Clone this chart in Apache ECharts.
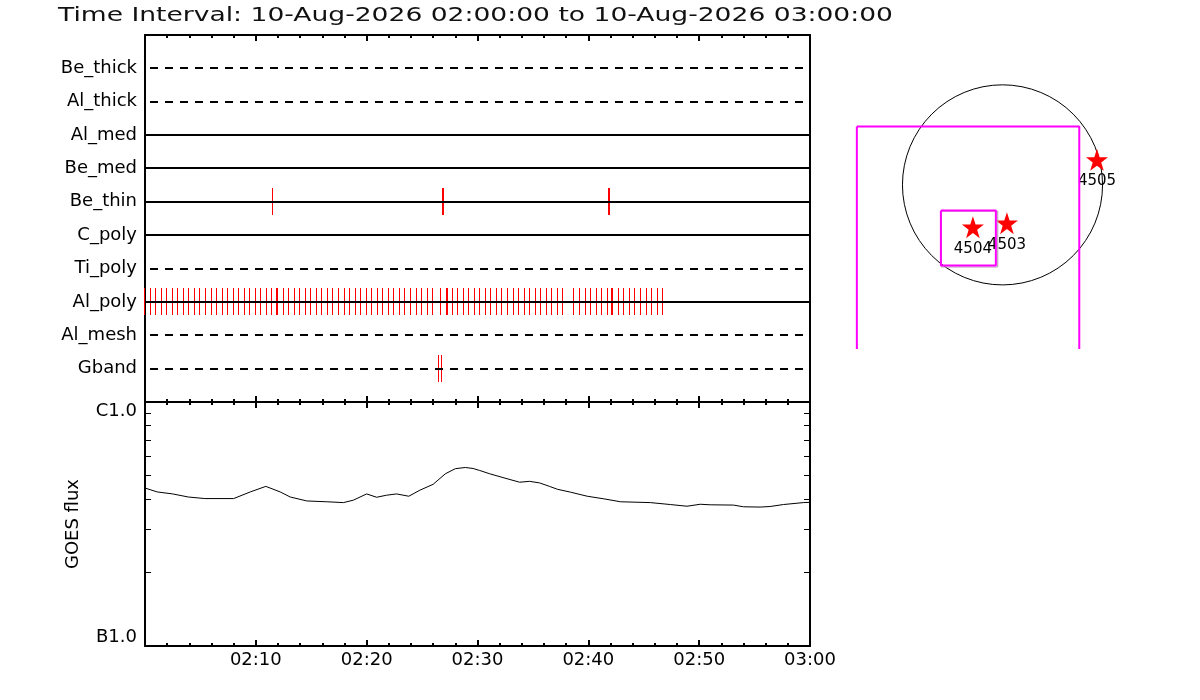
<!DOCTYPE html>
<html>
<head>
<meta charset="utf-8">
<title>XRT exposures and GOES flux</title>
<script src="https://cdn.jsdelivr.net/npm/echarts@6/dist/echarts.min.js"></script>
<style>
  html, body { margin: 0; padding: 0; background: #fff; }
  #main { width: 1200px; height: 700px; }
</style>
</head>
<body>
<div id="main"></div>
<script>
var titleText = 'Time Interval: 10-Aug-2026 02:00:00 to 10-Aug-2026 03:00:00';

// filter rows, top to bottom, and whether the row line is dashed
var filters = ['Be_thick', 'Al_thick', 'Al_med', 'Be_med', 'Be_thin', 'C_poly', 'Ti_poly', 'Al_poly', 'Al_mesh', 'Gband'];
var dashedRow = [1, 1, 0, 0, 0, 0, 1, 0, 1, 1];

// exposure times, minutes after 02:00
var beThinTimes = [11.58, 26.9, 27.0, 41.82, 41.92];
var gbandTimes = [26.56, 26.83];
var alPolyTimes = [0, 0.5, 1, 1.5, 2, 2.5, 3, 3.5, 4, 4.5, 5, 5.5, 6, 6.5, 7, 7.5, 8, 8.5, 9, 9.5,
  10, 10.5, 11, 11.5, 11.9, 12, 12.5, 13, 13.5, 14, 14.5, 15, 15.5, 16, 16.5, 17, 17.5, 18, 18.5,
  19, 19.5, 20, 20.5, 21, 21.5, 22, 22.5, 23, 23.5, 24, 24.5, 25, 25.5, 26, 26.75, 27.25, 27.37,
  27.75, 28.25, 28.75, 29.25, 29.75, 30.25, 30.75, 31.25, 31.75, 32.25, 32.75, 33.25, 33.75,
  34.25, 34.75, 35.25, 35.75, 36.25, 36.75, 37.25, 37.75, 38.75, 39.25, 39.75, 40.25, 40.75,
  41.25, 41.75, 42.15, 42.25, 42.75, 43.25, 43.75, 44.25, 44.75, 45.25, 45.75, 46.25, 46.75];

// GOES 1-8 A flux (W/m^2)
var goesTime = [0, 1.1, 2.5, 3.9, 5.4, 8.0, 9.5, 10.9, 12.2, 13.1, 14.6, 16.4, 17.9, 18.8, 20.0,
  20.9, 21.8, 22.7, 23.8, 24.8, 26.0, 27.1, 28.0, 28.9, 29.6, 30.2, 31.1, 32.3, 33.8, 34.7, 35.6,
  36.5, 37.2, 38.4, 39.9, 41.4, 42.9, 45.6, 47.4, 48.9, 50.1, 51.0, 53.1, 54.0, 55.5, 56.4, 57.6,
  59.4, 60];
var goesFlux = [4.44e-7, 4.28e-7, 4.20e-7, 4.08e-7, 4.02e-7, 4.02e-7, 4.28e-7, 4.51e-7, 4.28e-7,
  4.08e-7, 3.93e-7, 3.90e-7, 3.87e-7, 3.96e-7, 4.20e-7, 4.07e-7, 4.15e-7, 4.20e-7, 4.11e-7,
  4.35e-7, 4.60e-7, 5.08e-7, 5.33e-7, 5.39e-7, 5.34e-7, 5.24e-7, 5.08e-7, 4.90e-7, 4.69e-7,
  4.73e-7, 4.66e-7, 4.51e-7, 4.39e-7, 4.27e-7, 4.11e-7, 4.01e-7, 3.90e-7, 3.87e-7, 3.80e-7,
  3.74e-7, 3.81e-7, 3.79e-7, 3.78e-7, 3.72e-7, 3.71e-7, 3.73e-7, 3.80e-7, 3.87e-7, 3.88e-7];
var goesTickFlux = [1e-7, 2e-7, 3e-7, 4e-7, 5e-7, 6e-7, 7e-7, 8e-7, 9e-7, 1e-6];
var goesClassValues = [-7, -6];
var goesClassLabels = ['B1.0', 'C1.0'];

var timeTickValues = [10, 20, 30, 40, 50, 60];
var timeTickLabels = ['02:10', '02:20', '02:30', '02:40', '02:50', '03:00'];

// solar map, arcsec from disk centre
var rsun = 950;
var fovX = [-1383, 729, 729, -1383, -1383];
var fovY = [554, 554, -1600, -1600, 554];
var subX = [-585, -63, -63, -585, -585];
var subY = [-244, -244, -767, -767, -244];
var sub2X = [-580, -45, -45, -580, -580];
var sub2Y = [-250, -250, -780, -780, -250];
var arNames = ['4505', '4504', '4503'];
var arX = [897, -281, 42];
var arY = [237.5, -402, -364];

var FONT = '"DejaVu Sans", sans-serif';
var nRows = filters.length;
function rowOf(name) { return nRows - filters.indexOf(name); }

var exposures = [];
beThinTimes.forEach(function (t) { exposures.push([t, rowOf('Be_thin')]); });
gbandTimes.forEach(function (t) { exposures.push([t, rowOf('Gband')]); });
alPolyTimes.forEach(function (t) { exposures.push([t, rowOf('Al_poly')]); });

var rowLines = filters.map(function (f, i) { return [0, nRows - i, dashedRow[i]]; });
var goesData = goesTime.map(function (t, i) { return [t, Math.log10(goesFlux[i])]; });
var goesTicks = goesTickFlux.map(function (f) { return Math.log10(f); });
goesTicks[0] = -7; goesTicks[goesTicks.length - 1] = -6;

function zip(xs, ys) { return xs.map(function (x, i) { return [x, ys[i]]; }); }

// stretch title to the wide plotting-font look
var ctx = document.createElement('canvas').getContext('2d');
ctx.font = '20px "DejaVu Sans"';
var titleScale = 835 / ctx.measureText(titleText).width;

var black = '#000';
function timeAxis(gridIndex, position, withLabels) {
  return {
    type: 'value', gridIndex: gridIndex, position: position, min: 0, max: 60, interval: 10,
    axisLine: { show: true, onZero: false, lineStyle: { color: black, width: 2 } },
    axisTick: { show: true, inside: true, length: 6, lineStyle: { color: black, width: 2 } },
    minorTick: { show: true, splitNumber: 5, length: 3, lineStyle: { color: black, width: 2 } },
    splitLine: { show: false }, minorSplitLine: { show: false },
    axisLabel: withLabels ? {
      show: true, customValues: timeTickValues, margin: 5, color: black, fontSize: 18, fontFamily: FONT,
      formatter: function (v) { return timeTickLabels[timeTickValues.indexOf(v)]; }
    } : { show: false }
  };
}
function fluxAxis(position, withLabels) {
  return {
    type: 'value', gridIndex: 1, position: position, min: -7, max: -6,
    axisLine: { show: true, onZero: false, lineStyle: { color: black, width: 2 } },
    axisTick: { show: true, inside: true, length: 6, customValues: goesTicks, lineStyle: { color: black, width: 1 } },
    splitLine: { show: false },
    name: withLabels ? 'GOES flux' : '', nameLocation: 'middle', nameGap: 63, nameRotate: 90,
    nameTextStyle: { color: black, fontSize: 18, fontFamily: FONT },
    axisLabel: withLabels ? {
      show: true, customValues: goesClassValues, margin: 8, color: black, fontSize: 18, fontFamily: FONT,
      verticalAlignMinLabel: 'bottom', verticalAlignMaxLabel: 'top',
      formatter: function (v) { return goesClassLabels[goesClassValues.indexOf(v)]; }
    } : { show: false }
  };
}

var chart = echarts.init(document.getElementById('main'), null, { renderer: 'canvas' });
chart.setOption({
  animation: false,
  backgroundColor: '#fff',
  textStyle: { fontFamily: FONT },
  graphic: [{
    type: 'text', x: 58, y: 16, scaleX: titleScale, silent: true,
    style: { text: titleText, font: '20px "DejaVu Sans"', fill: '#111', align: 'left', verticalAlign: 'middle' }
  }],
  grid: [
    { left: 145, top: 35, width: 665, height: 367, outerBoundsMode: 'none' },
    { left: 145, top: 402, width: 665, height: 244, outerBoundsMode: 'none' },
    { left: 834, top: 27, width: 337, height: 321, outerBoundsMode: 'none' }
  ],
  xAxis: [
    timeAxis(0, 'top', false),
    timeAxis(0, 'bottom', false),
    timeAxis(1, 'top', false),
    timeAxis(1, 'bottom', true),
    { type: 'value', gridIndex: 2, min: -1600, max: 1600, show: false }
  ],
  yAxis: [
    {
      type: 'value', gridIndex: 0, position: 'left', min: 0, max: nRows + 1,
      axisLine: { show: true, onZero: false, lineStyle: { color: black, width: 2 } },
      axisTick: { show: false }, splitLine: { show: false },
      axisLabel: {
        show: true, customValues: filters.map(function (f, i) { return nRows - i; }),
        margin: 8, color: black, fontSize: 18, fontFamily: FONT,
        formatter: function (v) { return filters[nRows - v]; }
      }
    },
    {
      type: 'value', gridIndex: 0, position: 'right', min: 0, max: nRows + 1,
      axisLine: { show: true, onZero: false, lineStyle: { color: black, width: 2 } },
      axisTick: { show: false }, splitLine: { show: false }, axisLabel: { show: false }
    },
    fluxAxis('left', true),
    fluxAxis('right', false),
    { type: 'value', gridIndex: 2, min: -1550, max: 1500, show: false }
  ],
  series: [
    {
      type: 'custom', xAxisIndex: 0, yAxisIndex: 0, silent: true, data: exposures,
      renderItem: function (params, api) {
        var a = api.coord([api.value(0), api.value(1) + 0.41]);
        var b = api.coord([api.value(0), api.value(1) - 0.41]);
        var x = Math.round(a[0]) - 1;
        return { type: 'rect', shape: { x: x, y: Math.round(a[1]), width: 1, height: Math.round(b[1] - a[1]) }, style: { fill: '#ff0000' } };
      }
    },
    {
      type: 'custom', xAxisIndex: 0, yAxisIndex: 0, silent: true, data: rowLines,
      renderItem: function (params, api) {
        var a = api.coord([0, api.value(1)]);
        var b = api.coord([60, api.value(1)]);
        var y = Math.round(a[1]);
        var dashed = api.value(2) === 1;
        return {
          type: 'line', shape: { x1: a[0], y1: y, x2: b[0], y2: y },
          style: { stroke: black, lineWidth: 2, lineDash: dashed ? [8, 7] : null, lineDashOffset: 10 }
        };
      }
    },
    {
      type: 'line', xAxisIndex: 3, yAxisIndex: 2, data: goesData, symbol: 'none', silent: true,
      lineStyle: { color: black, width: 1 }
    },
    {
      type: 'custom', xAxisIndex: 4, yAxisIndex: 4, silent: true, data: [[0, 0, rsun]],
      renderItem: function (params, api) {
        var c = api.coord([api.value(0), api.value(1)]);
        var r = api.size([api.value(2), 0])[0];
        return { type: 'circle', shape: { cx: c[0], cy: c[1], r: r }, style: { fill: 'none', stroke: black, lineWidth: 1 } };
      }
    },
    {
      type: 'line', xAxisIndex: 4, yAxisIndex: 4, data: zip(fovX, fovY), symbol: 'none', silent: true, clip: true,
      lineStyle: { color: '#ff00ff', width: 2 }
    },
    {
      type: 'line', xAxisIndex: 4, yAxisIndex: 4, data: zip(sub2X, sub2Y), symbol: 'none', silent: true,
      lineStyle: { color: '#b090b0', width: 1 }
    },
    {
      type: 'line', xAxisIndex: 4, yAxisIndex: 4, data: zip(subX, subY), symbol: 'none', silent: true,
      lineStyle: { color: '#ff00ff', width: 2 }
    },
    {
      type: 'scatter', xAxisIndex: 4, yAxisIndex: 4, silent: true,
      symbol: 'path://M50 0 L61.8 35.1 L98.9 35.1 L68.9 56.7 L80.3 91.9 L50 70.2 L19.7 91.9 L31.1 56.7 L1.1 35.1 L38.2 35.1 Z',
      symbolSize: 22, itemStyle: { color: '#ff0000', opacity: 1 },
      label: { show: true, position: 'bottom', distance: 3, formatter: '{b}', color: black, fontSize: 15, fontFamily: FONT },
      data: arNames.map(function (n, i) { return { name: n, value: [arX[i], arY[i]] }; })
    }
  ]
});
</script>
</body>
</html>
